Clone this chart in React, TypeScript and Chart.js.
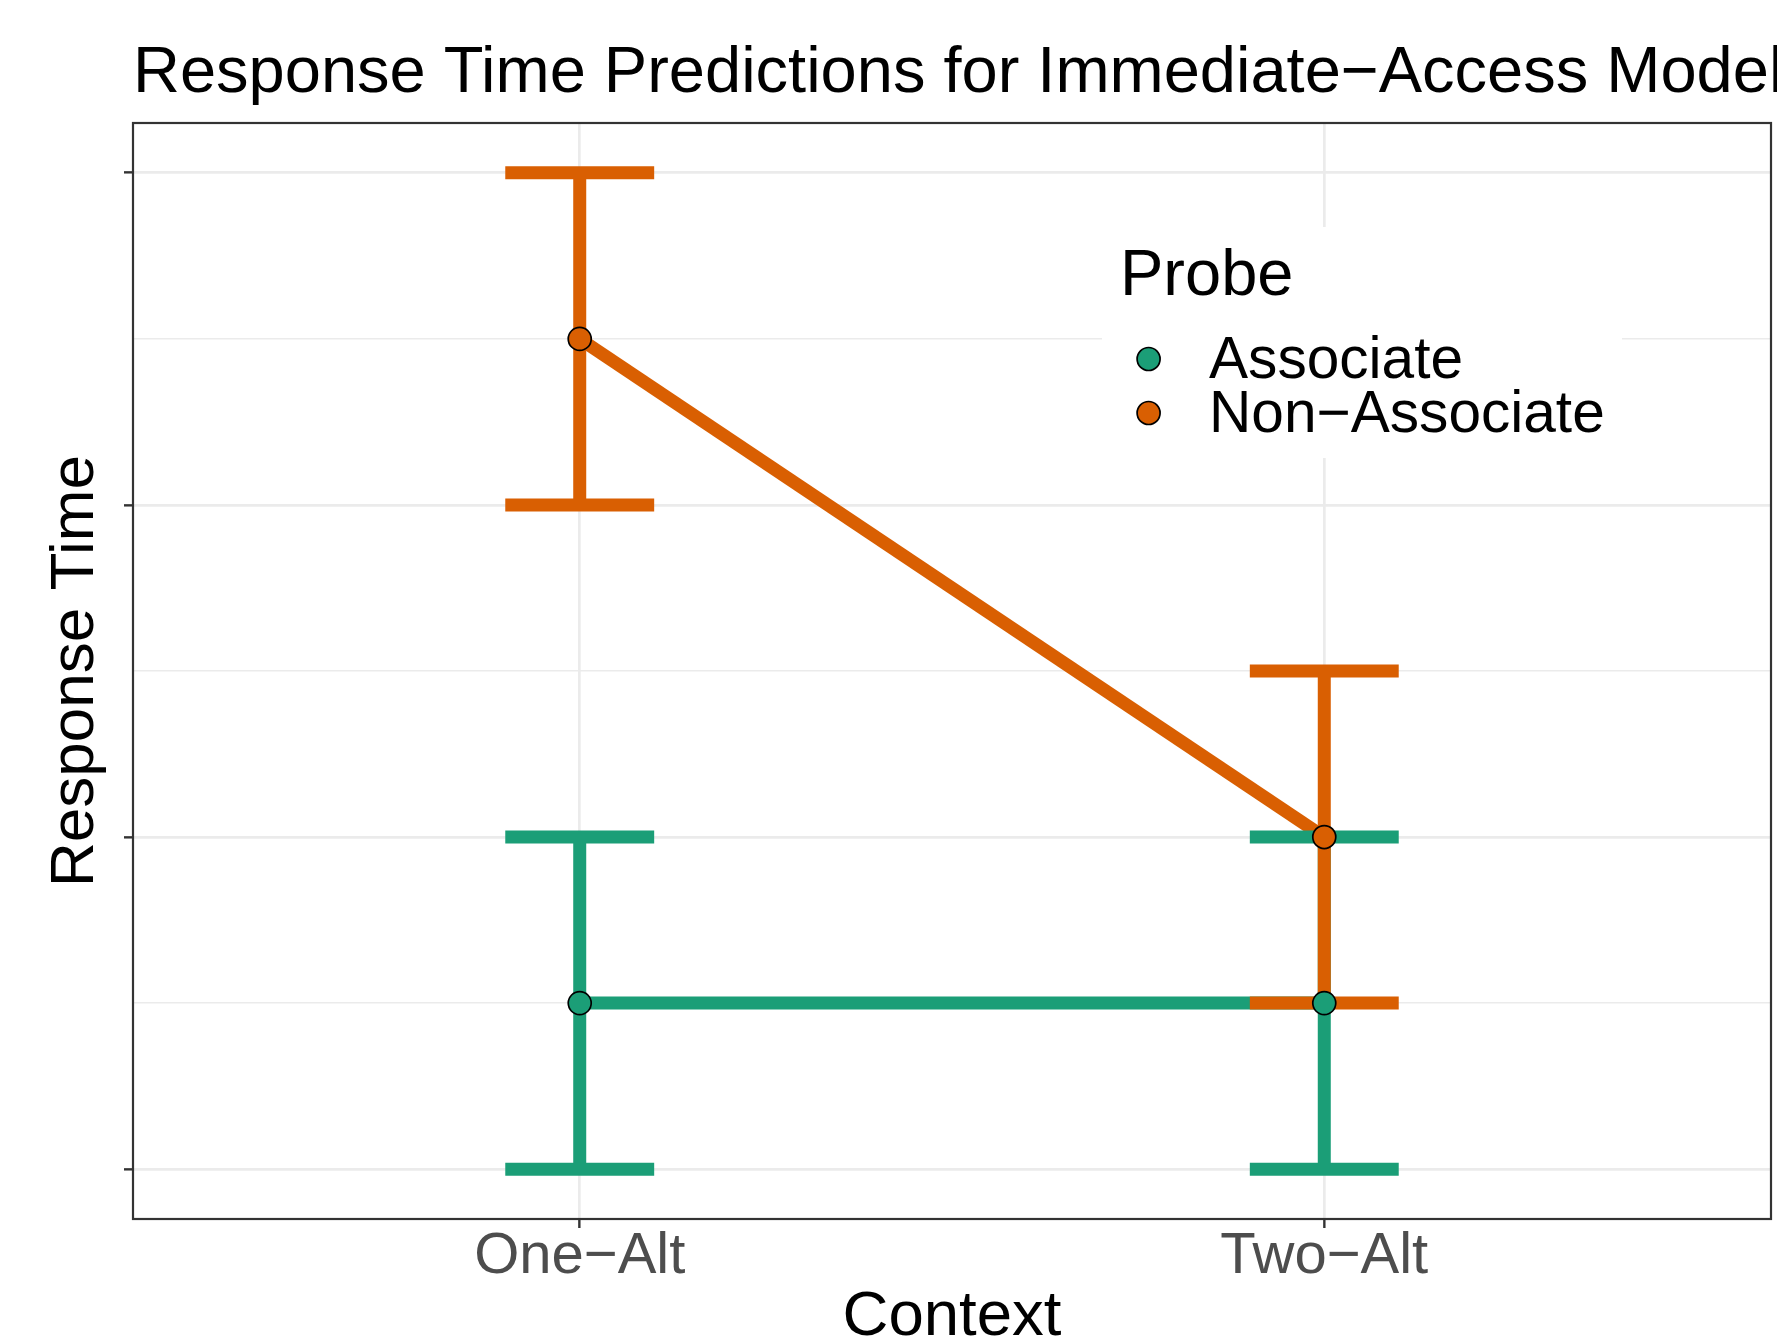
import React, { useEffect, useRef } from "react";
import { Chart, registerables } from "chart.js";

Chart.register(...registerables);

// ---- Data ----
const categories = ["One\u2212Alt", "Two\u2212Alt"];
const categoryPositions = [1, 2];
const seriesNames = ["Associate", "Non\u2212Associate"];
const associateMean = [1.5, 1.5];
const associateLow = [1, 1];
const associateHigh = [2, 2];
const nonAssociateMean = [3.5, 2];
const nonAssociateLow = [3, 1.5];
const nonAssociateHigh = [4, 2.5];
const yMajorTicks = [1, 2, 3, 4];
const yMinorTicks = [1.5, 2.5, 3.5];

const GREEN = "#1B9E77";
const ORANGE = "#D95F02";
const FONT = "'Liberation Sans', Arial, Helvetica, sans-serif";

const W = 1777;
const H = 1342;
const CAP_HALF = 0.1;
const AREA = { left: 133, top: 123, right: 1771, bottom: 1219 };

function meanPoints(mean: number[]) {
  return categoryPositions.map((x, i) => ({ x, y: mean[i] }));
}

function errorPath(low: number[], high: number[]) {
  const pts: { x: number; y: number | null }[] = [];
  categoryPositions.forEach((x, i) => {
    pts.push({ x: x - CAP_HALF, y: high[i] });
    pts.push({ x: x + CAP_HALF, y: high[i] });
    pts.push({ x, y: high[i] });
    pts.push({ x, y: low[i] });
    pts.push({ x: x - CAP_HALF, y: low[i] });
    pts.push({ x: x + CAP_HALF, y: low[i] });
    pts.push({ x, y: null });
  });
  return pts;
}

const decorPlugin = {
  id: "decor",
  beforeDraw(chart: any) {
    const ctx = chart.ctx;
    ctx.save();
    ctx.fillStyle = "#FFFFFF";
    ctx.fillRect(0, 0, chart.width, chart.height);
    ctx.restore();
  },
  afterDraw(chart: any) {
    const ctx = chart.ctx;
    const a = chart.chartArea;
    ctx.save();
    // panel border
    ctx.strokeStyle = "#333333";
    ctx.lineWidth = 2.2;
    ctx.strokeRect(a.left, a.top, a.right - a.left, a.bottom - a.top);

    // title
    ctx.fillStyle = "#000000";
    ctx.textBaseline = "alphabetic";
    ctx.textAlign = "left";
    ctx.font = `65px ${FONT}`;
    ctx.fillText("Response Time Predictions for Immediate\u2212Access Model", a.left, 92);

    // x axis title
    ctx.font = `63.5px ${FONT}`;
    ctx.textAlign = "center";
    ctx.fillText("Context", (a.left + a.right) / 2, 1335);

    // y axis title
    ctx.font = `62px ${FONT}`;
    ctx.save();
    ctx.translate(93, (a.top + a.bottom) / 2);
    ctx.rotate(-Math.PI / 2);
    ctx.textAlign = "center";
    ctx.fillText("Response Time", 0, 0);
    ctx.restore();

    // legend
    ctx.fillStyle = "#FFFFFF";
    ctx.fillRect(1102, 227, 520, 231);
    ctx.fillStyle = "#000000";
    ctx.textAlign = "left";
    ctx.font = `65px ${FONT}`;
    ctx.fillText("Probe", 1120, 295);
    const colors = [GREEN, ORANGE];
    const keyY = [359, 413];
    const textY = [378, 432];
    ctx.font = `58.6px ${FONT}`;
    seriesNames.forEach((name, i) => {
      ctx.beginPath();
      ctx.arc(1148.6, keyY[i], 11.5, 0, Math.PI * 2);
      ctx.fillStyle = colors[i];
      ctx.fill();
      ctx.lineWidth = 1.7;
      ctx.strokeStyle = "#000000";
      ctx.stroke();
      ctx.fillStyle = "#000000";
      ctx.fillText(name, 1209, textY[i]);
    });
    ctx.restore();
  },
};

export default function App() {
  const ref = useRef<HTMLCanvasElement | null>(null);

  useEffect(() => {
    if (!ref.current) return;
    const allY = [...yMajorTicks, ...yMinorTicks].sort((p, q) => p - q);
    const isMajor = (v: number) => yMajorTicks.includes(v);
    const lineBase = {
      showLine: true,
      pointRadius: 0,
      pointHoverRadius: 0,
      borderWidth: 13,
      borderCapStyle: "butt" as const,
      borderJoinStyle: "miter" as const,
      tension: 0,
      spanGaps: false,
    };
    const pointBase = {
      showLine: false,
      pointRadius: 11.5,
      pointHoverRadius: 11.5,
      pointBorderWidth: 1.7,
      borderWidth: 1.7,
      pointBorderColor: "#000000",
      borderColor: "#000000",
    };
    // Chart.js paints datasets from last to first, so the top-most layer comes first.
    const chart = new Chart(ref.current, {
      type: "scatter",
      data: {
        datasets: [
          { ...pointBase, label: seriesNames[1], data: meanPoints(nonAssociateMean), pointBackgroundColor: ORANGE, backgroundColor: ORANGE },
          { ...pointBase, label: seriesNames[0], data: meanPoints(associateMean), pointBackgroundColor: GREEN, backgroundColor: GREEN },
          { ...lineBase, label: "n-err", data: errorPath(nonAssociateLow, nonAssociateHigh), borderColor: ORANGE, backgroundColor: ORANGE },
          { ...lineBase, label: "a-err", data: errorPath(associateLow, associateHigh), borderColor: GREEN, backgroundColor: GREEN },
          { ...lineBase, label: "n-line", data: meanPoints(nonAssociateMean), borderColor: ORANGE, backgroundColor: ORANGE },
          { ...lineBase, label: "a-line", data: meanPoints(associateMean), borderColor: GREEN, backgroundColor: GREEN },
        ] as any,
      },
      options: {
        animation: false,
        responsive: false,
        devicePixelRatio: 1,
        events: [],
        layout: {
          autoPadding: false,
          padding: { top: AREA.top, right: W - AREA.right, left: 0, bottom: 0 },
        },
        plugins: {
          legend: { display: false },
          tooltip: { enabled: false },
          title: { display: false },
        },
        scales: {
          x: {
            type: "linear",
            min: 0.4,
            max: 2.6,
            afterBuildTicks: (s: any) => {
              s.ticks = categoryPositions.map((v) => ({ value: v }));
            },
            afterFit: (s: any) => {
              s.height = H - AREA.bottom;
            },
            ticks: {
              autoSkip: false,
              maxRotation: 0,
              minRotation: 0,
              padding: 0,
              color: "#4D4D4D",
              font: { family: FONT, size: 58, lineHeight: 1 },
              callback: (v: any) => {
                const i = categoryPositions.indexOf(Number(v));
                return i >= 0 ? categories[i] : "";
              },
            },
            grid: {
              color: "#EBEBEB",
              lineWidth: 2.7,
              drawTicks: true,
              tickLength: 9,
              tickColor: "#333333",
              tickWidth: 2.4,
            },
            border: { display: false },
          },
          y: {
            type: "linear",
            min: 0.85,
            max: 4.15,
            afterBuildTicks: (s: any) => {
              s.ticks = allY.map((v) => ({ value: v }));
            },
            afterFit: (s: any) => {
              s.width = AREA.left;
            },
            ticks: {
              padding: 0,
              font: { family: FONT, size: 10 },
              callback: () => "",
            },
            grid: {
              color: "#EBEBEB",
              lineWidth: (c: any) => (isMajor(c.tick?.value) ? 2.7 : 1.6),
              drawTicks: true,
              tickLength: 9,
              tickColor: (c: any) => (isMajor(c.tick?.value) ? "#333333" : "rgba(0,0,0,0)"),
              tickWidth: 2.4,
            },
            border: { display: false },
          },
        },
      } as any,
      plugins: [decorPlugin],
    });
    return () => chart.destroy();
  }, []);

  return (
    <div style={{ position: "absolute", left: 0, top: 0, width: W, height: H, background: "#fff" }}>
      <canvas ref={ref} width={W} height={H} style={{ display: "block", width: W, height: H }} />
    </div>
  );
}
